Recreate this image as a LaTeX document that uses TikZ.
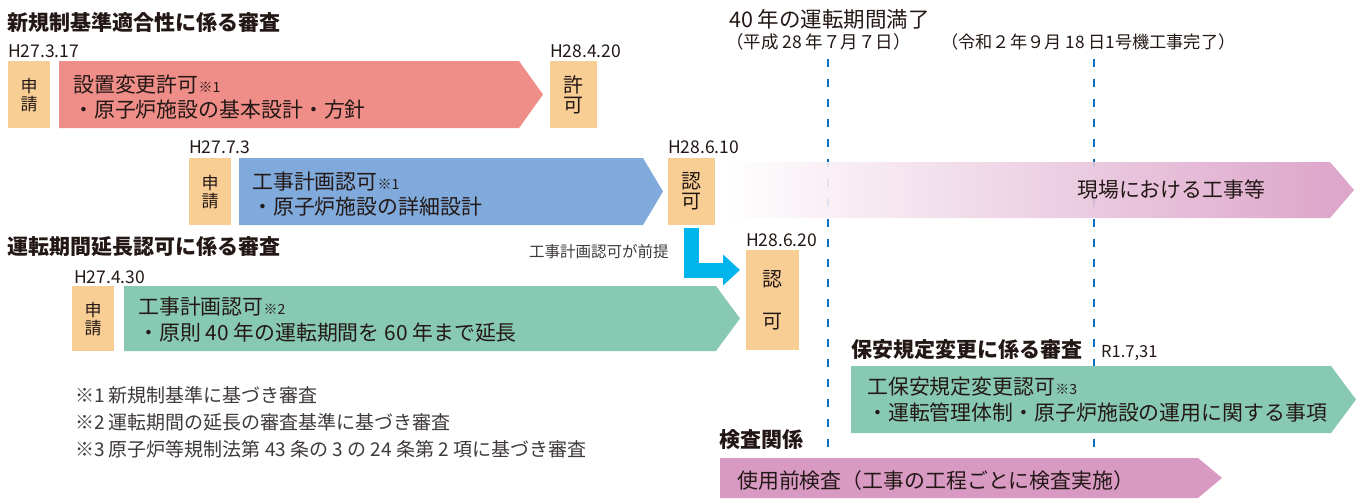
\documentclass[tikz,border=0pt]{standalone}
\usepackage{fontspec}
\setmainfont{Noto Sans CJK JP}
\usetikzlibrary{arrows.meta}
\definecolor{ink}{HTML}{231815}
\definecolor{tagOrange}{HTML}{F9CE95}
\definecolor{aRed}{HTML}{EF8E88}
\definecolor{aBlue}{HTML}{80AADB}
\definecolor{aGreen}{HTML}{88C9B4}
\definecolor{aPink}{HTML}{D89AC3}
\definecolor{lCyan}{HTML}{00B4EC}
\definecolor{dBlue}{HTML}{0A6EC0}
\definecolor{noteGray}{HTML}{3E3A39}
\newcommand\fsz[1]{\fontsize{#1}{#1}\selectfont}
\tikzset{
  txt/.style={inner sep=0pt, anchor=west, text=ink},
  ttl/.style={txt, font=\bfseries\fsz{21}},
  datelbl/.style={txt, font=\fsz{17.5}},
  bodytxt/.style={txt, font=\fsz{20.9}},
  notetxt/.style={txt, font=\fsz{19}, text=noteGray},
  tagbox/.style={fill=tagOrange, inner sep=0pt, anchor=north west, text=ink, align=center},
  dashln/.style={dBlue, line width=2pt, dash pattern=on 8pt off 12pt},
}
\newcommand\barrow[6]{%
  \fill[#6] (#1,#2) -- (#5,#2) -- (#3,{(#2+#4)/2}) -- (#5,#4) -- (#1,#4) -- cycle;}
\newcommand\sm[1]{{\fsz{14}#1}}
\begin{document}
\begin{tikzpicture}[x=1pt,y=-1pt]
\useasboundingbox (0,0) rectangle (1359,498);
% dashed time lines
\coordinate (d1t) at (828,59); \coordinate (d1b) at (828,498);
\coordinate (d2t) at (1094,59); \coordinate (d2b) at (1094,498);
\draw[dashln] (d1t) -- (d1b);
\draw[dashln] (d2t) -- (d2b);

% top labels
\node[txt, font=\fsz{21.5}] (exp) at (729,19) {40 年の運転期間満了};
\node[txt, font=\fsz{17.5}] (expd) at (726,42) {（平成 28 年７月７日）};
\node[txt, font=\fsz{17.2}] (fin) at (941,42) {（令和２年９月 18 日1号機工事完了）};

% ---- row 1
\node[ttl] (t1) at (7,22) {新規制基準適合性に係る審査};
\node[datelbl] (d11) at (8,51) {H27.3.17};
\node[tagbox, minimum width=42pt, minimum height=67pt, font=\fsz{17}] (s1) at (8,61) {申\\[1pt]請};
\barrow{59}{61}{543}{128}{519}{aRed}
\node[bodytxt] (r1a) at (73,85) {設置変更許可\sm{※1}};
\node[bodytxt] (r1b) at (73,110) {・原子炉施設の基本設計・方針};
\node[datelbl] (d12) at (550,51) {H28.4.20};
\node[tagbox, minimum width=47pt, minimum height=67pt, font=\fsz{20}] (k1) at (550,61) {許\\[0pt]可};

% ---- row 2
\node[datelbl] (d21) at (189,147) {H27.7.3};
\node[tagbox, minimum width=42pt, minimum height=67pt, font=\fsz{17}] (s2) at (189,158) {申\\[1pt]請};
\barrow{239}{158}{663}{225}{643}{aBlue}
\node[bodytxt] (r2a) at (252,182) {工事計画認可\sm{※1}};
\node[bodytxt] (r2b) at (252,207) {・原子炉施設の詳細設計};
\node[datelbl] (d22) at (668,147) {H28.6.10};
\node[tagbox, minimum width=47pt, minimum height=67pt, font=\fsz{20}] (n2) at (668,158) {認\\[0pt]可};
% gradient arrow
\shade[left color=white, right color=aPink, fill opacity=0.9]
  (722,162) -- (1330,162) -- (1354,190) -- (1330,218) -- (722,218) -- cycle;
\node[txt, font=\fsz{20.9}] (site) at (1077,190) {現場における工事等};

% ---- row 3
\node[ttl] (t3) at (7,247) {運転期間延長認可に係る審査};
\node[txt, font=\fsz{15.5}, text=noteGray] (pre) at (529,252) {工事計画認可が前提};
\node[datelbl] (d31) at (74,277) {H27.4.30};
\node[tagbox, minimum width=42pt, minimum height=65pt, font=\fsz{17}] (s3) at (72,286) {申\\[1pt]請};
\barrow{124}{286}{740}{351}{716}{aGreen}
\node[bodytxt] (r3a) at (138,307) {工事計画認可\sm{※2}};
\node[bodytxt] (r3b) at (138,333) {・原則 40 年の運転期間を 60 年まで延長};
\node[datelbl] (d32) at (746,240) {H28.6.20};
\node[tagbox, minimum width=53pt, minimum height=100pt, font=\fsz{20}] (n3) at (746,250) {認\\[22pt]可};
\coordinate (ltip) at (740,270);
\draw[lCyan, line width=15pt, line join=miter, -{Triangle[length=17pt,width=30pt]}]
  ([yshift=-3pt]n2.south) |- (ltip);

% footnotes
\node[notetxt] (f1) at (75,395) {※1 新規制基準に基づき審査};
\node[notetxt] (f2) at (75,422) {※2 運転期間の延長の審査基準に基づき審査};
\node[notetxt] (f3) at (75,449) {※3 原子炉等規制法第 43 条の 3 の 24 条第 2 項に基づき審査};

% ---- row 4
\node[ttl] (t4) at (851,350) {保安規定変更に係る審査};
\node[datelbl, font=\fsz{16.5}] (d41) at (1101,353) {R1.7,31};
\barrow{851}{366}{1356}{433}{1331}{aGreen}
\node[bodytxt] (r4a) at (867,387) {工保安規定変更認可\sm{※3}};
\node[bodytxt] (r4b) at (867,413) {・運転管理体制・原子炉施設の運用に関する事項};

% ---- inspection
\node[ttl] (t5) at (719,440) {検査関係};
\barrow{720}{458}{1222}{498}{1198}{aPink}
\node[bodytxt] (r5) at (737,481) {使用前検査（工事の工程ごとに検査実施）};
\end{tikzpicture}
\end{document}
